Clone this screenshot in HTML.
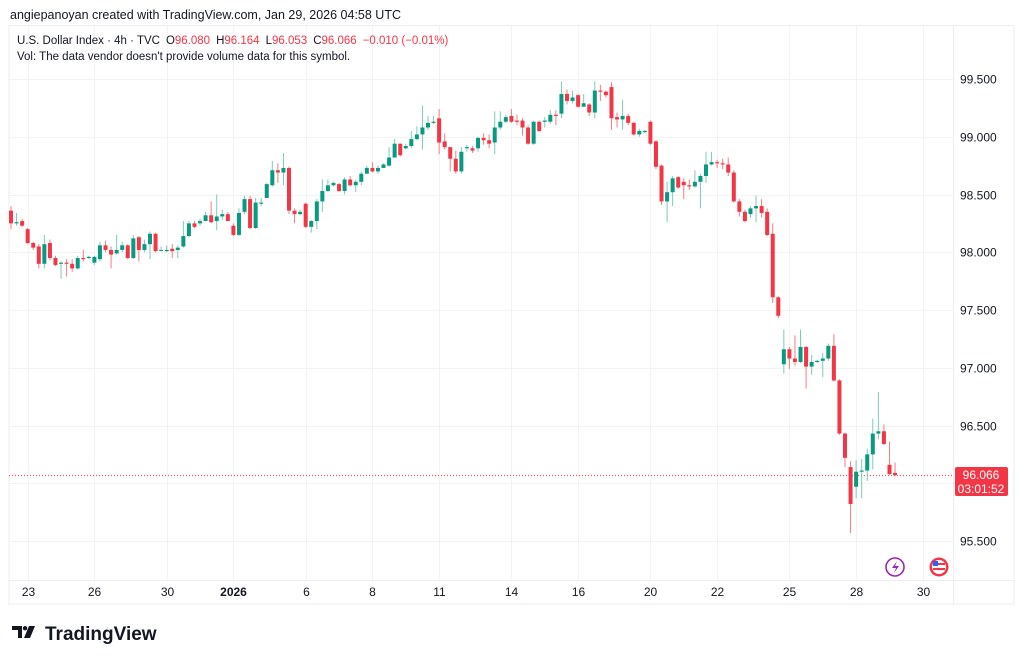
<!DOCTYPE html>
<html><head><meta charset="utf-8">
<style>
html,body{margin:0;padding:0;background:#fff;width:1024px;height:661px;overflow:hidden;font-family:"Liberation Sans",sans-serif;}
svg text{font-family:"Liberation Sans",sans-serif;}
</style></head>
<body>
<svg id="chart" width="1024" height="661" viewBox="0 0 1024 661" xmlns="http://www.w3.org/2000/svg">
<rect width="1024" height="661" fill="#fff"/>
<text x="10" y="19" font-size="12.5" fill="#131722">angiepanoyan created with TradingView.com, Jan 29, 2026 04:58 UTC</text>
<rect x="9" y="25.5" width="1005" height="578.5" fill="none" stroke="#eceef2"/>
<line x1="953.5" y1="26" x2="953.5" y2="604" stroke="#eceef2"/>
<line x1="9" y1="580.5" x2="1014" y2="580.5" stroke="#eceef2"/>
<g id="grid"></g>
<g id="candles"></g>
<text x="17" y="44" font-size="11.5" fill="#131722">U.S. Dollar Index · 4h · TVC<tspan dx="6">O</tspan><tspan fill="#f23645">96.080</tspan><tspan dx="6">H</tspan><tspan fill="#f23645">96.164</tspan><tspan dx="6">L</tspan><tspan fill="#f23645">96.053</tspan><tspan dx="6">C</tspan><tspan fill="#f23645">96.066</tspan><tspan dx="6" fill="#f23645">−0.010 (−0.01%)</tspan></text>
<text x="17" y="60" font-size="11.5" fill="#131722">Vol: The data vendor doesn't provide volume data for this symbol.</text>
<g id="yaxis"></g>
<g id="xaxis"></g>
<g>
<rect x="955" y="467" width="53" height="29" rx="2" fill="#f23645"/>
<text x="981" y="479" font-size="12" fill="#fff" text-anchor="middle">96.066</text>
<text x="981" y="493" font-size="12" fill="#fff" text-anchor="middle">03:01:52</text>
</g>
<g><circle cx="895" cy="567" r="9" fill="#fff" stroke="#9c27b0" stroke-width="1.6"/><path d="M897 561 L892 568 L896 568 L894 573 L899 566 L895 566 Z" fill="#9c27b0"/></g>
<g><circle cx="939" cy="567" r="9.5" fill="#f23645"/><circle cx="939" cy="567" r="7" fill="#fff"/><rect x="933" y="563" width="12" height="2" fill="#f23645"/><rect x="933" y="568" width="12" height="2" fill="#f23645"/><rect x="933" y="561" width="5" height="5" fill="#2962ff"/></g>
<g>
<path d="M12 626 h10 v12 h-4 v-8 h-6 z M25 626 a2.2 2.2 0 1 0 0.1 0 z M29 626 h6 l-5 12 h-6 z" fill="#131722"/>
<text x="45" y="640" font-size="19" font-weight="bold" fill="#131722">TradingView</text>
</g>
</svg>
<script>
const opens=[98.36,98.25,98.27,98.20,98.08,98.05,97.90,98.08,97.95,97.90,97.91,97.90,97.86,97.95,97.95,97.91,97.94,98.06,98.02,97.99,98.02,98.06,97.95,98.13,98.02,98.07,98.16,98.02,98.01,98.03,98.02,98.05,98.14,98.25,98.25,98.27,98.32,98.27,98.31,98.33,98.23,98.15,98.35,98.46,98.21,98.42,98.47,98.58,98.71,98.69,98.73,98.36,98.33,98.42,98.22,98.27,98.44,98.53,98.58,98.59,98.53,98.63,98.58,98.61,98.68,98.73,98.70,98.73,98.75,98.82,98.94,98.90,98.92,98.98,99.02,99.08,99.12,99.16,98.96,98.91,98.81,98.70,98.90,98.90,98.90,98.99,98.97,98.95,99.08,99.13,99.18,99.14,99.14,99.08,98.94,99.13,99.13,99.13,99.19,99.20,99.37,99.31,99.36,99.26,99.28,99.21,99.40,99.39,99.43,99.17,99.15,99.18,99.12,99.02,99.04,99.13,98.96,98.75,98.44,98.52,98.65,98.61,98.58,98.57,98.61,98.66,98.76,98.78,98.77,98.76,98.69,98.44,98.35,98.33,98.38,98.40,98.35,98.16,97.61,97.03,97.16,97.08,97.05,97.18,97.01,97.05,97.06,97.08,97.19,96.89,96.43,96.14,95.97,96.10,96.11,96.25,96.43,96.45,96.16,96.09];
const closes=[98.25,98.26,98.23,98.08,98.04,97.90,98.07,97.95,97.89,97.91,97.90,97.86,97.95,97.94,97.96,97.96,98.06,98.02,97.98,98.02,98.06,97.95,98.12,98.02,98.07,98.16,98.01,98.02,98.02,98.01,98.04,98.14,98.25,98.22,98.27,98.32,98.26,98.31,98.33,98.27,98.15,98.34,98.46,98.21,98.43,98.43,98.59,98.71,98.69,98.73,98.36,98.33,98.35,98.22,98.27,98.44,98.53,98.58,98.60,98.53,98.63,98.58,98.61,98.68,98.73,98.70,98.73,98.76,98.82,98.94,98.84,98.92,98.98,99.02,99.08,99.12,99.13,98.95,98.91,98.81,98.70,98.87,98.91,98.88,98.99,98.97,98.94,99.08,99.13,99.17,99.13,99.13,99.08,98.94,99.13,99.05,99.14,99.19,99.18,99.37,99.31,99.34,99.26,99.29,99.21,99.40,99.39,99.36,99.16,99.15,99.18,99.12,99.02,99.05,99.05,98.94,98.74,98.44,98.52,98.64,98.56,98.58,98.57,98.61,98.66,98.76,98.78,98.77,98.76,98.69,98.44,98.35,98.27,98.38,98.40,98.34,98.15,97.61,97.45,97.16,97.08,97.05,97.18,97.01,97.05,97.06,97.08,97.19,96.89,96.43,96.22,95.82,96.10,96.11,96.25,96.43,96.45,96.34,96.08,96.07];
const highs=[98.40,98.34,98.29,98.21,98.09,98.07,98.15,98.11,97.97,97.92,97.94,97.94,97.97,98.02,97.97,97.97,98.09,98.10,98.05,98.15,98.09,98.07,98.15,98.14,98.11,98.18,98.17,98.05,98.06,98.07,98.06,98.27,98.27,98.27,98.29,98.35,98.44,98.50,98.37,98.35,98.25,98.38,98.49,98.49,98.47,98.47,98.60,98.79,98.77,98.86,98.74,98.38,98.37,98.43,98.28,98.46,98.63,98.63,98.61,98.60,98.65,98.66,98.63,98.70,98.75,98.78,98.75,98.77,98.91,98.98,98.94,98.94,99.05,99.09,99.27,99.18,99.18,99.24,99.03,98.91,98.88,98.91,98.93,98.92,99.00,99.03,99.02,99.22,99.22,99.19,99.24,99.19,99.16,99.10,99.14,99.14,99.17,99.23,99.23,99.48,99.41,99.40,99.37,99.37,99.29,99.48,99.45,99.40,99.47,99.21,99.32,99.20,99.13,99.07,99.06,99.14,98.97,98.76,98.61,98.66,98.66,98.64,98.63,98.71,98.68,98.87,98.87,98.80,98.81,98.82,98.71,98.46,98.37,98.40,98.49,98.46,98.38,98.25,97.62,97.33,97.18,97.28,97.33,97.19,97.11,97.07,97.13,97.21,97.29,96.90,96.44,96.19,96.20,96.21,96.30,96.56,96.79,96.51,96.36,96.18];
const lows=[98.20,98.23,98.22,98.07,98.02,97.86,97.86,97.93,97.88,97.77,97.79,97.83,97.85,97.92,97.94,97.89,97.92,98.00,97.86,97.98,98.00,97.94,97.94,97.92,98.00,97.94,98.00,98.01,98.00,97.95,97.95,98.04,98.13,98.21,98.23,98.27,98.25,98.19,98.28,98.27,98.14,98.14,98.33,98.20,98.20,98.40,98.47,98.57,98.60,98.58,98.33,98.25,98.32,98.21,98.17,98.20,98.35,98.52,98.57,98.52,98.50,98.57,98.52,98.58,98.68,98.69,98.68,98.73,98.74,98.82,98.83,98.89,98.90,98.97,98.89,99.06,99.11,98.85,98.89,98.70,98.68,98.68,98.87,98.86,98.87,98.93,98.90,98.85,99.06,99.12,99.12,99.10,99.01,98.93,98.93,99.04,99.08,99.11,99.10,99.16,99.28,99.29,99.25,99.26,99.18,99.16,99.31,99.34,99.06,99.08,99.06,99.10,99.01,99.00,99.03,98.93,98.72,98.41,98.26,98.40,98.55,98.46,98.54,98.56,98.38,98.60,98.75,98.73,98.72,98.66,98.43,98.31,98.26,98.30,98.26,98.30,98.14,97.56,97.43,96.95,96.99,97.02,97.04,96.82,96.94,97.04,96.92,97.06,96.88,96.42,96.14,95.57,95.87,95.87,96.02,96.12,96.38,96.33,96.07,96.06];
const priceTicks=[99.5,99.0,98.5,98.0,97.5,97.0,96.5,96.0,95.5];
const priceTickLabels=["99.500","99.000","98.500","98.000","97.500","97.000","96.500","96.000","95.500"];
const dateLabels=["23","26","30","2026","6","8","11","14","16","20","22","25","28","30"];
const dateCandleIdx=[3,15,28,40,53,65,77,90,102,115,127,140,152,164];
const lastPrice=96.066;

const NS="http://www.w3.org/2000/svg";
const yScale=p=>79+(99.5-p)*115.5;
const xScale=i=>11+i*5.56;
function mk(tag,attrs,parent){const e=document.createElementNS(NS,tag);for(const k in attrs)e.setAttribute(k,attrs[k]);parent.appendChild(e);return e;}
const grid=document.getElementById('grid'),ya=document.getElementById('yaxis'),xa=document.getElementById('xaxis'),cg=document.getElementById('candles');
priceTicks.forEach((p,k)=>{
  const y=Math.round(yScale(p))+0.5;
  const l=mk('line',{x1:9,x2:953,y1:y,y2:y,stroke:'#f2f3f5'},grid);
  
  
  if(p===96.0) return;
  const t=mk('text',{x:960,y:y+4,'font-size':12,fill:'#131722'},ya);
  t.textContent=priceTickLabels[k];
  
  
});
dateLabels.forEach((d,k)=>{
  const x=Math.round(xScale(dateCandleIdx[k]))+0.5;
  const l=mk('line',{x1:x,x2:x,y1:26,y2:580,stroke:'#f2f3f5'},grid);
  
  
  const t=mk('text',{x:x,y:596,'font-size':12,fill:'#131722','text-anchor':'middle','font-weight':d==='2026'?'bold':'normal'},xa);
  t.textContent=d;
  
  
});
opens.forEach((o,i)=>{
  const c=closes[i],up=c>=o,col=up?'#089981':'#f23645',wc=up?'#7ccab9':'#f77c80';
  const x=xScale(i);
  const w=mk('line',{x1:x,x2:x,y1:yScale(highs[i]),y2:yScale(lows[i]),stroke:wc,'stroke-width':1},cg);
  
  
  const top=yScale(Math.max(o,c)),h=Math.max(1,Math.abs(yScale(o)-yScale(c)));
  const b=mk('rect',{x:x-2,y:top,width:4,height:h,fill:col},cg);
  
  
});
const ly=yScale(lastPrice);
const pl=mk('line',{x1:9,x2:953,y1:ly,y2:ly,stroke:'#f23645','stroke-width':1,'stroke-dasharray':'1 2'},grid);


</script>
</body></html>
